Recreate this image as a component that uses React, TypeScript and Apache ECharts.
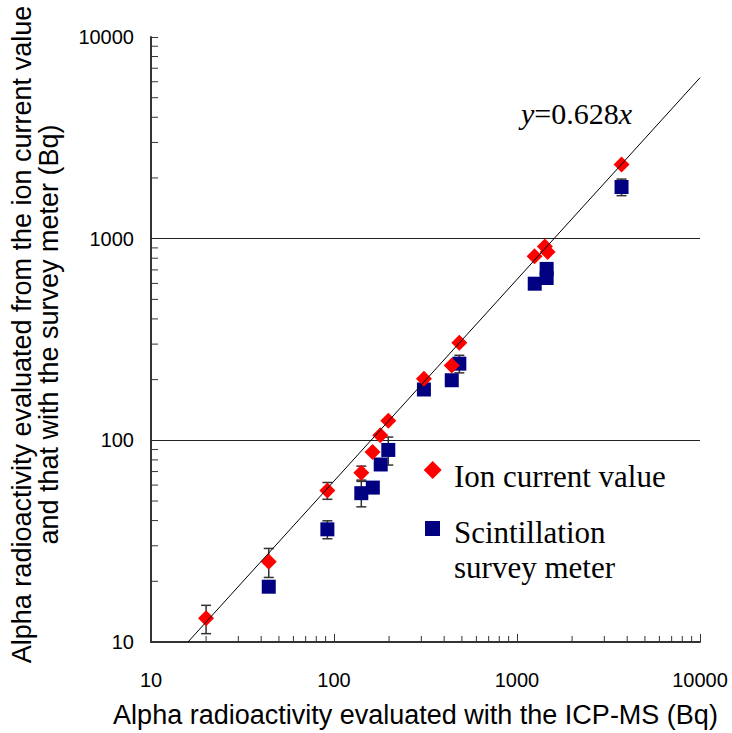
import React, { useEffect, useRef } from "react";
import * as echarts from "echarts";

// Ion current value (red diamonds): ICP-MS value vs evaluated value, with error
const ionX = [20, 44, 92, 141, 162.5, 179, 198, 310, 440, 484, 1247, 1420, 1470, 3726];
const ionY = [13.1, 25, 56.4, 69, 87.5, 106, 125, 202, 235, 305, 817, 915, 860, 2335];
const ionErr = [2.1, 4.1, 5.4, 5.5, 0, 0, 0, 0, 0, 0, 0, 0, 0, 0];

// Scintillation survey meter (navy squares)
const scintX = [44, 92, 141, 163, 180, 198, 310, 440, 484, 1250, 1452, 1452, 3726];
const scintY = [18.8, 36.2, 54.7, 58.3, 75.9, 89.6, 178.7, 198.6, 240, 598, 708, 638, 1804];
const scintErr = [0, 3.7, 7.9, 0, 0, 14.2, 0, 0, 24, 0, 0, 0, 170];

// Fitted line y = 0.628 x
const fitSlope = 0.628;
const fitX = [10 / 0.628, 10000];

const gridLineValues = [100, 1000];
const axisMin = 10;
const axisMax = 10000;
const minorTickValues = [
  20, 30, 40, 50, 60, 70, 80, 90,
  200, 300, 400, 500, 600, 700, 800, 900,
  2000, 3000, 4000, 5000, 6000, 7000, 8000, 9000,
];

const xName = "Alpha radioactivity evaluated with the ICP-MS (Bq)";
const yName =
  "Alpha radioactivity evaluated from the ion current value\nand that with the survey meter (Bq)";
const ionName = "Ion current value";
const scintName = "Scintillation\nsurvey meter";

const RED = "#ff0000";
const NAVY = "#000080";
const SANS = "'Liberation Sans', Arial, sans-serif";
const SERIF = "'Liberation Serif', 'Times New Roman', serif";

function errorBarRender(color: string) {
  return (params: any, api: any) => {
    const x = api.value(0);
    const y = api.value(1);
    const e = api.value(2);
    if (!e) return { type: "group", children: [] };
    const top = api.coord([x, y + e]);
    const bot = api.coord([x, y - e]);
    const w = 5;
    const style = { stroke: color, lineWidth: 1.5 };
    return {
      type: "group",
      children: [
        { type: "line", shape: { x1: top[0], y1: top[1], x2: bot[0], y2: bot[1] }, style },
        { type: "line", shape: { x1: top[0] - w, y1: top[1], x2: top[0] + w, y2: top[1] }, style },
        { type: "line", shape: { x1: bot[0] - w, y1: bot[1], x2: bot[0] + w, y2: bot[1] }, style },
      ],
    };
  };
}

export default function App() {
  const ref = useRef<HTMLDivElement>(null);

  useEffect(() => {
    if (!ref.current) return;
    const chart = echarts.init(ref.current, undefined, { renderer: "svg" });

    const ionData = ionX.map((x, i) => [x, ionY[i]]);
    const scintData = scintX.map((x, i) => [x, scintY[i]]);
    const ionErrData = ionX.map((x, i) => [x, ionY[i], ionErr[i]]);
    const scintErrData = scintX.map((x, i) => [x, scintY[i], scintErr[i]]);
    const fitData = fitX.map((x) => [x, fitSlope * x]);

    const fmt = (v: number) => String(Math.round(v));

    const option: any = {
      animation: false,
      backgroundColor: "#ffffff",
      grid: { left: 145, top: 37, width: 555, height: 606, containLabel: false },
      xAxis: {
        type: "log",
        logBase: 10,
        min: axisMin,
        max: axisMax,
        name: xName,
        nameLocation: "middle",
        nameGap: 59,
        nameTextStyle: { fontFamily: SANS, fontSize: 27, color: "#000", padding: [0, 20, 0, 0] },
        axisLine: { lineStyle: { color: "#333", width: 2 } },
        axisTick: { inside: true, length: 8, lineStyle: { color: "#333", width: 1 } },
        axisLabel: { fontFamily: SANS, fontSize: 20, color: "#000", margin: 28, formatter: fmt },
        splitLine: { show: false },
      },
      yAxis: {
        type: "log",
        logBase: 10,
        min: axisMin,
        max: axisMax,
        name: yName,
        nameLocation: "middle",
        nameGap: 89,
        nameRotate: 90,
        nameTextStyle: { fontFamily: SANS, fontSize: 27, color: "#000", lineHeight: 27, padding: [0, 0, 0, 10] },
        axisLine: { lineStyle: { color: "#333", width: 2 } },
        axisTick: { inside: true, length: 7, lineStyle: { color: "#333", width: 1 } },
        axisLabel: { fontFamily: SANS, fontSize: 20, color: "#000", margin: 17, formatter: fmt },
        splitLine: { show: false },
      },
      series: [
        {
          name: "grid",
          type: "line",
          data: [],
          z: 1,
          silent: true,
          markLine: {
            silent: true,
            symbol: "none",
            label: { show: false },
            lineStyle: { color: "#222", type: "solid", width: 1 },
            data: gridLineValues.map((v) => ({ yAxis: v })),
          },
        },
        {
          name: "xMinorTicks",
          type: "custom",
          silent: true,
          clip: false,
          z: 2,
          data: minorTickValues.map((v) => [v, axisMin]),
          renderItem: (params: any, api: any) => {
            const p = api.coord([api.value(0), axisMin]);
            return {
              type: "line",
              shape: { x1: p[0], y1: p[1], x2: p[0], y2: p[1] - 6 },
              style: { stroke: "#333", lineWidth: 1 },
            };
          },
        },
        {
          name: "yMinorTicks",
          type: "custom",
          silent: true,
          clip: false,
          z: 2,
          data: minorTickValues.map((v) => [axisMin, v]),
          renderItem: (params: any, api: any) => {
            const p = api.coord([axisMin, api.value(1)]);
            return {
              type: "line",
              shape: { x1: p[0], y1: p[1], x2: p[0] + 7, y2: p[1] },
              style: { stroke: "#333", lineWidth: 1 },
            };
          },
        },
        {
          name: "scintErr",
          type: "custom",
          silent: true,
          z: 3,
          data: scintErrData,
          renderItem: errorBarRender("#333"),
        },
        {
          name: "ionErr",
          type: "custom",
          silent: true,
          z: 3,
          data: ionErrData,
          renderItem: errorBarRender("#333"),
        },
        {
          name: scintName,
          type: "scatter",
          z: 4,
          symbol: "rect",
          symbolSize: 14,
          itemStyle: { color: NAVY, opacity: 1 },
          data: scintData,
        },
        {
          name: ionName,
          type: "scatter",
          z: 5,
          symbol: "diamond",
          symbolSize: 16,
          itemStyle: { color: RED, opacity: 1 },
          data: ionData,
        },
        {
          name: "fit",
          type: "line",
          z: 6,
          silent: true,
          symbol: "none",
          lineStyle: { color: "#000", width: 1 },
          data: fitData,
        },
      ],
      graphic: [
        {
          type: "text",
          x: 521,
          y: 113,
          style: {
            text: "{i|y}=0.628{i|x}",
            font: `30px ${SERIF}`,
            fill: "#000",
            verticalAlign: "middle",
            rich: { i: { fontStyle: "italic", fontSize: 30, fontFamily: SERIF } },
          },
        },
        {
          type: "polygon",
          shape: { points: [[432.7, 461], [441.7, 470], [432.7, 479], [423.7, 470]] },
          style: { fill: RED },
        },
        {
          type: "text",
          x: 454,
          y: 476,
          style: { text: ionName, font: `31px ${SERIF}`, fill: "#000", verticalAlign: "middle" },
        },
        {
          type: "rect",
          shape: { x: 425, y: 521, width: 15, height: 15 },
          style: { fill: NAVY },
        },
        {
          type: "text",
          x: 454,
          y: 532,
          style: { text: "Scintillation", font: `31px ${SERIF}`, fill: "#000", verticalAlign: "middle" },
        },
        {
          type: "text",
          x: 454,
          y: 567,
          style: { text: "survey meter", font: `31px ${SERIF}`, fill: "#000", verticalAlign: "middle" },
        },
      ],
    };

    chart.setOption(option);
    return () => chart.dispose();
  }, []);

  return (
    <div
      ref={ref}
      style={{ position: "absolute", left: 0, top: 0, width: 732, height: 733, background: "#fff" }}
    />
  );
}
